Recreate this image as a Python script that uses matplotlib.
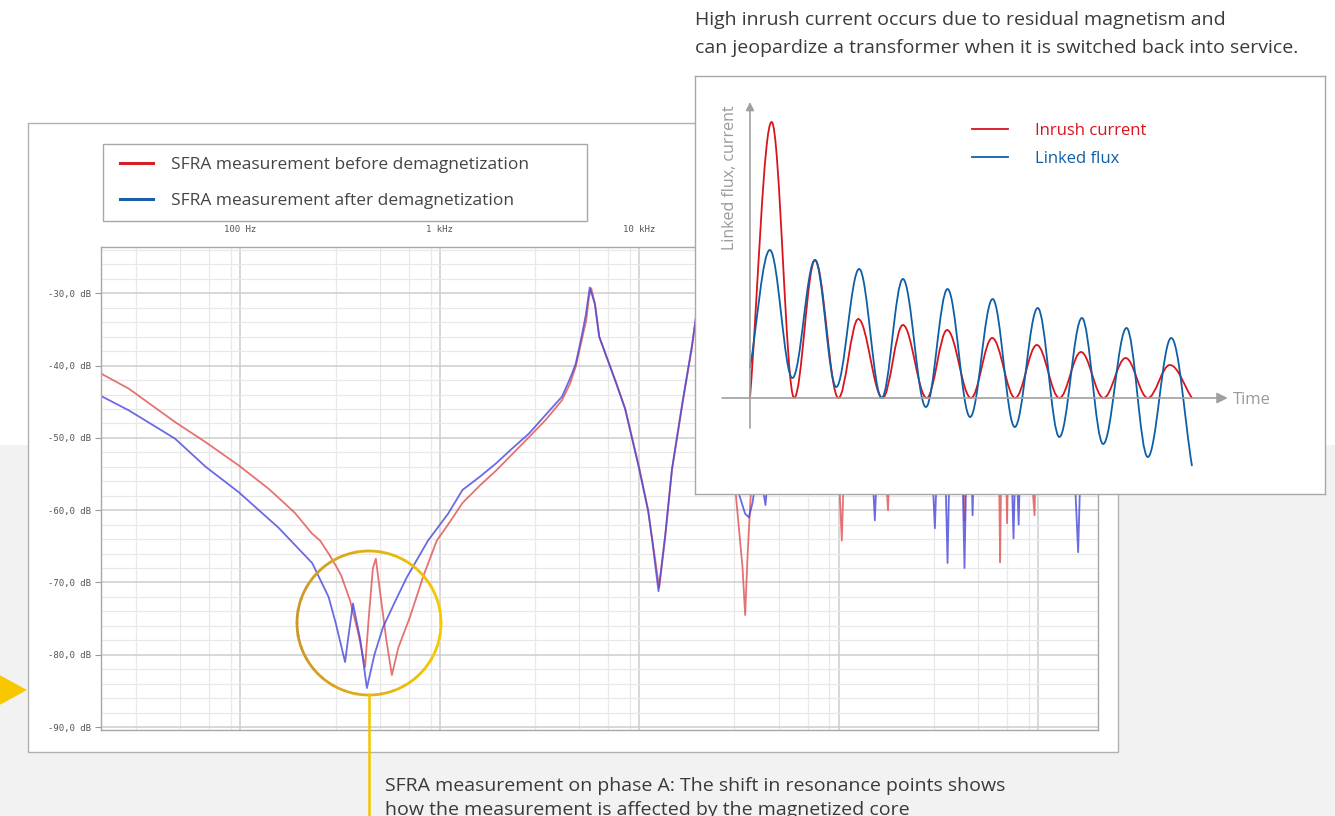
import matplotlib
matplotlib.use("Agg")
import matplotlib.pyplot as plt
from matplotlib.patches import Rectangle, Polygon, PathPatch, Arc
from matplotlib.path import Path
from matplotlib.lines import Line2D
from matplotlib.ticker import FixedLocator, FuncFormatter
import numpy as np

plt.rcParams["font.family"] = ["Open Sans", "DejaVu Sans"]

W, H = 1335, 816

# SFRA sweep, before demagnetization (Hz, dB)
freq_before = [20, 27.6, 47, 67, 98, 138, 160, 188, 210, 228, 251, 277, 300, 320,
               355, 390, 422, 440, 462, 478, 500, 540, 575, 620, 708, 830, 966,
               1100, 1300, 1600, 1920, 2300, 2800, 3400, 4100, 4500, 4800, 5100,
               5430, 5600, 5750, 6000, 6310, 6700, 7700, 8500, 10000, 11100,
               11600, 12600, 13500, 14600, 16500, 18400, 20000, 23000, 26000,
               28000, 30500, 33000, 34000, 35000, 36300, 38000, 45000, 70000,
               95000, 100000, 103800, 107000, 140000, 170000, 177000, 182000,
               300000, 420000, 428000, 436000, 600000, 640000, 646000, 652000,
               690000, 700000, 710000, 900000, 961000, 980000, 1500000, 2000000]
db_before = [-41.1, -43.2, -47.8, -50.6, -53.8, -57.0, -58.6, -60.4, -62.0, -63.2,
             -64.2, -66.0, -67.6, -69.0, -72.5, -77.0, -81.7, -75.0, -68.0, -66.7,
             -71.0, -78.0, -82.8, -79.0, -74.8, -69.0, -64.2, -62.0, -59.0, -56.5,
             -54.5, -52.3, -49.9, -47.5, -44.8, -42.5, -40.2, -37.0, -33.7, -30.5,
             -29.3, -31.5, -36.0, -38.0, -42.5, -45.9, -54.1, -60.0, -63.8, -70.7,
             -63.8, -54.5, -45.2, -37.5, -30.0, -27.0, -33.0, -48.0, -57.7, -68.0,
             -74.5, -66.0, -57.7, -48.0, -44.0, -45.0, -47.0, -54.0, -64.2, -52.0,
             -48.0, -52.0, -60.0, -50.0, -48.0, -50.0, -61.4, -50.0, -50.0, -58.0,
             -67.2, -57.0, -53.0, -61.8, -52.0, -50.0, -60.7, -50.0, -48.0, -46.0]

# SFRA sweep, after demagnetization (Hz, dB)
freq_after = [20, 27.6, 47, 67, 98, 155, 229, 277, 300, 335, 350, 367, 400, 431,
              470, 519, 600, 683, 873, 1100, 1300, 1600, 1920, 2300, 2800, 3400,
              4100, 4500, 4800, 5100, 5400, 5650, 6000, 6300, 6700, 7700, 8500,
              10000, 11100, 11600, 12500, 13500, 14600, 16500, 18400, 20000,
              23000, 26000, 29000, 31600, 34000, 35500, 37000, 37600, 40000,
              42000, 43000, 44000, 48000, 100000, 145000, 152000, 158000, 290000,
              304000, 315000, 340000, 352000, 362000, 415000, 428000, 440000,
              460000, 470000, 480000, 730000, 754000, 775000, 800000, 820000,
              1500000, 1590000, 1650000, 2000000]
db_after = [-44.2, -46.2, -50.1, -54.0, -57.5, -62.4, -67.3, -72.0, -75.5, -81.0,
            -77.0, -72.9, -78.0, -84.6, -80.0, -76.2, -72.5, -69.3, -64.2, -60.5,
            -57.2, -55.3, -53.5, -51.5, -49.4, -46.8, -44.3, -41.8, -39.8, -36.5,
            -33.0, -29.2, -31.5, -36.0, -38.0, -42.6, -46.0, -54.3, -60.2, -64.0,
            -71.2, -63.5, -54.3, -45.0, -37.2, -30.0, -27.0, -33.0, -50.0, -57.7,
            -60.5, -61.0, -59.0, -57.7, -52.0, -57.5, -59.3, -56.0, -50.0, -48.0,
            -50.0, -61.4, -50.0, -50.0, -62.5, -50.0, -50.0, -67.3, -50.0, -50.0,
            -68.0, -50.0, -50.0, -60.7, -50.0, -50.0, -63.9, -50.0, -62.0, -50.0,
            -50.0, -65.8, -50.0, -47.0]

db_ticks = [-30, -40, -50, -60, -70, -80, -90]
freq_ticks = [100, 1000, 10000, 100000, 1000000]
freq_labels = ["100 Hz", "1 kHz", "10 kHz", "100 kHz", "1 MHz"]

# inset sketch: extrema of the two waveforms (time in periods, height in px)
inrush_t = [0, 0.49, 1, 1.47, 2, 2.45, 3, 3.46, 4, 4.46, 5, 5.48, 6, 6.49, 7,
            7.49, 8, 8.5, 9, 9.5, 10]
inrush_v = [0, 276, 0, 138, 0, 79, 0, 73, 0, 68, 0, 60, 0, 53, 0, 46, 0, 40,
            0, 33, 0]
flux_t = [0, 0.45, 0.96, 1.47, 1.95, 2.47, 2.98, 3.46, 3.98, 4.47, 4.98, 5.49,
          5.99, 6.51, 7.0, 7.51, 7.99, 8.52, 9.0, 9.53, 10.0]
flux_v = [30, 148, 20, 138, 11, 129, 0, 119, -9, 109, -19, 99, -29, 90, -39, 80,
          -46, 70, -59, 60, -68]


def fx(px):
    return px / W


def fy(py):
    return 1 - py / H


def smooth_path(ts, vs, k=0.36):
    verts = [(ts[0], vs[0])]
    codes = [Path.MOVETO]
    n = len(ts)
    for i in range(n - 1):
        t0, v0, t1, v1 = ts[i], vs[i], ts[i + 1], vs[i + 1]
        d = (t1 - t0) * k
        if i == 0:
            c1 = (t0 + (t1 - t0) * k, v0 + (v1 - v0) * k)
        else:
            c1 = (t0 + d, v0)
        if i == n - 2:
            c2 = (t1 - (t1 - t0) * k, v1 - (v1 - v0) * k)
        else:
            c2 = (t1 - d, v1)
        verts += [c1, c2, (t1, v1)]
        codes += [Path.CURVE4] * 3
    return Path(verts, codes)


fig = plt.figure(figsize=(W / 100, H / 100), dpi=100)
fig.patch.set_facecolor("white")

# background layer
ax_bg = fig.add_axes([0, 0, 1, 1], zorder=0)
ax_bg.set_xlim(0, W)
ax_bg.set_ylim(H, 0)
ax_bg.axis("off")
ax_bg.add_patch(Rectangle((0, 445), W, H - 445, color="#f2f2f2", lw=0))
ax_bg.add_patch(Rectangle((28, 123), 1090, 629, fc="white", ec="#b0b0b0", lw=1))
ax_bg.add_patch(Rectangle((103, 144), 484, 77, fc="white", ec="#a8a8a8", lw=1))

ax_bg.text(695, 20, "High inrush current occurs due to residual magnetism and",
           fontsize=14, color="#3a3a3a", va="center", ha="left")
ax_bg.text(695, 48, "can jeopardize a transformer when it is switched back into service.",
           fontsize=14, color="#3a3a3a", va="center", ha="left")
ax_bg.text(385, 786, "SFRA measurement on phase A: The shift in resonance points shows",
           fontsize=14, color="#3a3a3a", va="center", ha="left")
ax_bg.text(385, 810, "how the measurement is affected by the magnetized core",
           fontsize=14, color="#3a3a3a", va="center", ha="left")

# main SFRA chart
ax = fig.add_axes([fx(101), fy(730), (1098 - 101) / W, (730 - 247) / H], zorder=1)
ax.set_xscale("log")
ax.set_xlim(20, 2e6)
ax.set_ylim(-90.4, -23.6)
ax.set_axisbelow(True)

minor_f = [m * 10 ** e for e in range(1, 7) for m in (3, 5, 7, 9) if 20 < m * 10 ** e < 2e6]
ax.xaxis.set_major_locator(FixedLocator(freq_ticks))
ax.xaxis.set_minor_locator(FixedLocator(minor_f))
ax.xaxis.set_major_formatter(FuncFormatter(lambda v, p: freq_labels[freq_ticks.index(v)] if v in freq_ticks else ""))
ax.xaxis.set_minor_formatter(FuncFormatter(lambda v, p: ""))
ax.xaxis.tick_top()
ax.tick_params(axis="x", which="both", length=0, pad=9, labelsize=6.5, labelcolor="#555555")
for lab in ax.get_xticklabels():
    lab.set_family("DejaVu Sans Mono")

ax.yaxis.set_major_locator(FixedLocator(db_ticks))
ax.yaxis.set_minor_locator(FixedLocator(list(range(-90, -22, 2))))
ax.yaxis.set_major_formatter(FuncFormatter(lambda v, p: f"{v:.1f} dB".replace(".", ",")))
ax.tick_params(axis="y", which="major", length=4, color="#999999", pad=3,
               labelsize=6.5, labelcolor="#555555")
ax.tick_params(axis="y", which="minor", length=0)
for lab in ax.get_yticklabels():
    lab.set_family("DejaVu Sans Mono")

ax.grid(which="major", color="#cdcdcd", lw=1.1)
ax.grid(which="minor", color="#e8e8e8", lw=0.9)
for s in ax.spines.values():
    s.set_color("#a8a8a8")
    s.set_linewidth(1)

ax.plot(freq_before, db_before, color="#e05050", lw=1.3, alpha=0.8)
ax.plot(freq_after, db_after, color="#4646dc", lw=1.3, alpha=0.8)

# legend of the main chart
leg = fig.legend(handles=[Line2D([], [], color="#d51f26", lw=2.2, label="SFRA measurement before demagnetization"),
                          Line2D([], [], color="#1a5fa8", lw=2.2, label="SFRA measurement after demagnetization")],
                 loc="upper left", bbox_to_anchor=(fx(120), fy(157)), frameon=False,
                 fontsize=12.5, handlelength=1.9, handletextpad=1.05, labelspacing=1.15,
                 borderpad=0, borderaxespad=0)
for t in leg.get_texts():
    t.set_color("#444444")

# overlay: yellow circle, pointer line, side arrow
ax_ov = fig.add_axes([0, 0, 1, 1], zorder=2)
ax_ov.set_xlim(0, W)
ax_ov.set_ylim(H, 0)
ax_ov.axis("off")
ax_ov.patch.set_alpha(0)
gold = np.array([0.80, 0.60, 0.16])
yellow = np.array([0.96, 0.79, 0.0])
for a in range(0, 360, 10):
    w = 0.5 + 0.5 * np.cos(np.radians(a + 5 - 180))
    col = tuple(yellow + (gold - yellow) * w)
    ax_ov.add_patch(Arc((369, 623), 144, 144, theta1=a - 0.5, theta2=a + 10.5, color=col, lw=2))
ax_ov.plot([369, 369], [695, H], color="#f5c400", lw=1.8)
ax_ov.add_patch(Polygon([(-6, 672), (27, 690), (-6, 708)], closed=True, fc="#f7c800", ec="none"))

# inset: inrush current sketch
ax_in = fig.add_axes([fx(695), fy(494), 630 / W, 418 / H], zorder=3)
ax_in.set_xlim(-1.244, 13.01)
ax_in.set_ylim(-96, 322)
ax_in.set_xticks([])
ax_in.set_yticks([])
ax_in.set_facecolor("white")
for s in ax_in.spines.values():
    s.set_color("#a8a8a8")
    s.set_linewidth(1)

ax_in.annotate("", xy=(0, 296), xytext=(0, -30),
               arrowprops=dict(arrowstyle="-|>", color="#a0a0a0", lw=1.2, mutation_scale=12,
                               shrinkA=0, shrinkB=0))
ax_in.annotate("", xy=(10.81, 0), xytext=(-0.63, 0),
               arrowprops=dict(arrowstyle="-|>", color="#a0a0a0", lw=1.2, mutation_scale=16,
                               shrinkA=0, shrinkB=0))
ax_in.text(10.93, -2, "Time", fontsize=12, color="#9a9a9a", va="center", ha="left")
ax_in.text(-0.45, 220, "Linked flux, current", fontsize=11.5, color="#9a9a9a",
           rotation=90, va="center", ha="center")

ax_in.add_patch(PathPatch(smooth_path(inrush_t, inrush_v), fill=False, ec="#d8141c", lw=1.3))
ax_in.add_patch(PathPatch(smooth_path(flux_t, flux_v), fill=False, ec="#0f5fa5", lw=1.3))

leg2 = ax_in.legend(handles=[Line2D([], [], color="#d8141c", lw=1.3, label="Inrush current"),
                             Line2D([], [], color="#0f5fa5", lw=1.3, label="Linked flux")],
                    loc="upper left", bbox_to_anchor=((972 - 695) / 630, 1 - (123 - 76) / 418),
                    frameon=False, fontsize=12, handlelength=2.16, handletextpad=1.6,
                    labelspacing=0.7, borderpad=0, borderaxespad=0, labelcolor="linecolor")

fig.savefig("out.png", dpi=100)
